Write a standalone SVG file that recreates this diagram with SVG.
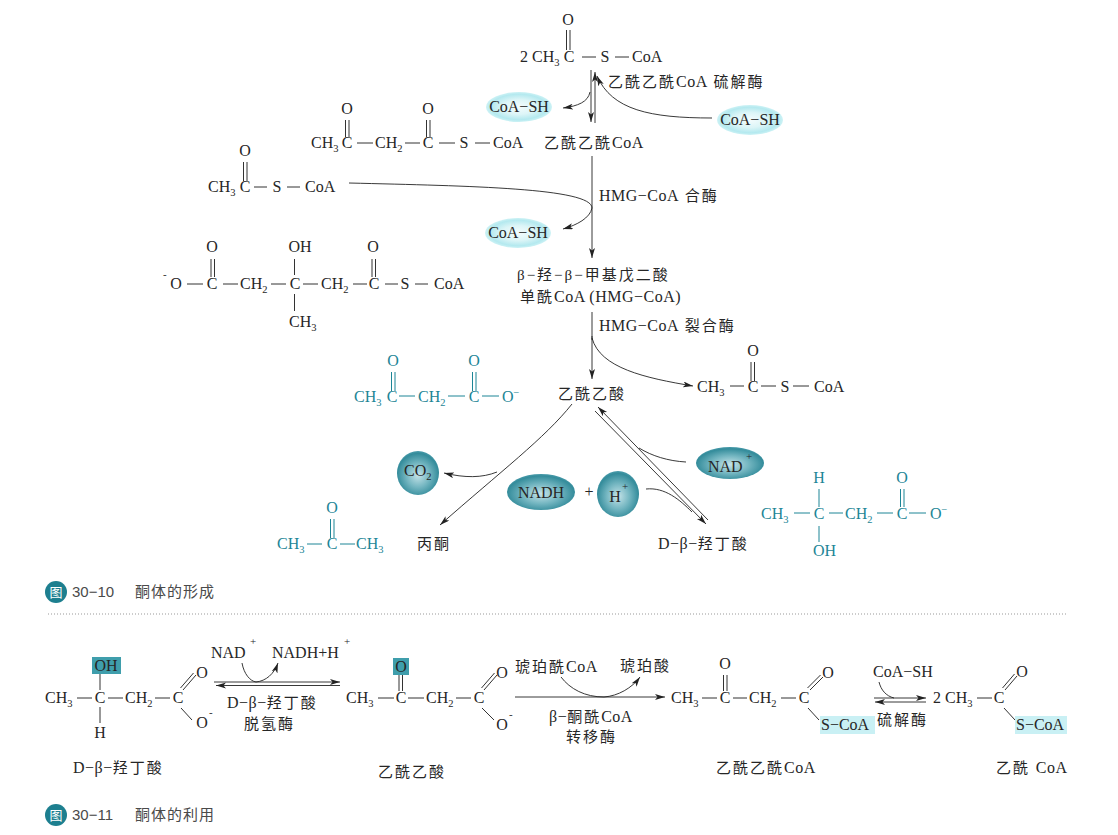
<svg xmlns="http://www.w3.org/2000/svg" width="1118" height="835" viewBox="0 0 1118 835">
<style>
text{font-family:"Liberation Serif","Noto Sans CJK SC",serif;font-size:16px;fill:#262626}
.c text{fill:#1d8596}
.m{text-anchor:middle}
.cap{font-family:"Liberation Sans","Noto Sans CJK SC",sans-serif;font-size:15px;fill:#4a4a4a}
.k{font-size:15px;letter-spacing:2px}
.n{font-size:16px;letter-spacing:.5px}
.s{font-size:10.500px}
.p{font-size:11px}
.b{stroke:#333;stroke-width:1;fill:none}
.c .b{stroke:#1d8596}
.a{stroke:#222;stroke-width:.9;fill:none;marker-end:url(#h)}
.l{stroke:#222;stroke-width:.9;fill:none}
.ic{fill:#fff;font-size:13px;font-family:"Noto Sans CJK SC",sans-serif;text-anchor:middle}
</style>
<defs>
<marker id="h" markerWidth="11" markerHeight="7" refX="10" refY="3" orient="auto" markerUnits="userSpaceOnUse"><path d="M0 0L10 3L0 6L2.500 3Z" fill="#222"/></marker>
<radialGradient id="cy"><stop offset="0" stop-color="#f4fcfd"/><stop offset="0.5" stop-color="#dcf5f7"/><stop offset="0.85" stop-color="#b4e9ef"/><stop offset="1" stop-color="#cdf2f5"/></radialGradient>
<radialGradient id="te" cx="0.5" cy="0.55" r="0.55"><stop offset="0" stop-color="#c5e3e8"/><stop offset="0.5" stop-color="#74b6c1"/><stop offset="0.9" stop-color="#348c9b"/><stop offset="1" stop-color="#4b9cab"/></radialGradient>
</defs>
<rect width="1118" height="835" fill="#fff"/>

<g id="connectors">
<path class="a" d="M591 70V122"/>
<path class="a" d="M595 123V72"/>
<path class="a" d="M590 92C588 102 578 106 563 108"/>
<path class="a" d="M712 118C650 118 612 110 597 76"/>
<path class="a" d="M592 156V258"/>
<path class="l" d="M349 183C470 186 592 188 592 208"/>
<path class="a" d="M592 208C590 218 577 225 563 229"/>
<path class="l" d="M592 312V340"/><path class="a" d="M592 336V379"/>
<path class="a" d="M592 338C600 368 645 378 693 386"/>
<path class="a" d="M572 404C545 438 500 472 440 525"/>
<path class="a" d="M497 472C482 478 465 478 444 473"/>
<path class="a" d="M595 411L706 524"/>
<path class="a" d="M708 520L598 407"/>
<path class="l" d="M686 462C668 461 652 456 639 448"/>
<path class="l" d="M646 489C665 487 680 500 692 512"/>
<path class="a" d="M214 682H340"/>
<path class="a" d="M340 685.500H216"/>
<path class="l" d="M242 663C244 674 250 681 256 682"/>
<path class="a" d="M256 682C266 681 274 674 278 663"/>
<path class="a" d="M515 697H665"/>
<path class="l" d="M561 677C570 689 585 697 604 697"/>
<path class="a" d="M604 697C618 696 632 688 640 677"/>
<path class="a" d="M874 698H926"/>
<path class="a" d="M926 702H875"/>
<path class="l" d="M879 682C881 690 886 696 894 698"/>
</g>

<g id="acetyl-coa-top"><text class="m" x="568" y="25">O</text><path class="b" d="M566.500 30V50M570 30V50M582 57H596M615 57H629"/>
<text x="520" y="62">2 CH<tspan class="s" dy="4">3</tspan></text><text class="m" x="569" y="62">C</text><text class="m" x="605" y="62">S</text><text x="632" y="62">CoA</text></g>
<text id="thiolase-label" class="k" x="608" y="87">乙酰乙酰<tspan class="n">CoA</tspan> 硫解酶</text>
<g id="coash-1"><ellipse cx="519" cy="107" rx="33" ry="15" fill="url(#cy)"/><text class="m" x="519" y="112">CoA−SH</text></g>
<g id="coash-2"><ellipse cx="750" cy="120" rx="33" ry="15" fill="url(#cy)"/><text class="m" x="750" y="125">CoA−SH</text></g>
<g id="coash-3"><ellipse cx="518" cy="233" rx="33" ry="15" fill="url(#cy)"/><text class="m" x="518" y="238">CoA−SH</text></g>

<g id="acetoacetyl-coa-struct"><text class="m" x="347" y="114">O</text><text class="m" x="428" y="114">O</text><path class="b" d="M345.500 120V137M349 120V137M426.500 120V137M430 120V137M357 143H373M405 143H420M439 143H455M475 143H490"/>
<text x="311" y="148">CH<tspan class="s" dy="4">3</tspan></text><text class="m" x="347" y="148">C</text><text x="375" y="148">CH<tspan class="s" dy="4">2</tspan></text><text class="m" x="428" y="148">C</text><text class="m" x="464" y="148">S</text><text x="493" y="148">CoA</text></g>
<text id="acetoacetyl-coa-label" class="k" x="544" y="148">乙酰乙酰<tspan class="n">CoA</tspan></text>

<g id="acetyl-coa-left"><text class="m" x="245" y="156">O</text><path class="b" d="M243.500 162V181M247 162V181M254 187H267M287 187H300"/>
<text x="208" y="192">CH<tspan class="s" dy="4">3</tspan></text><text class="m" x="245" y="192">C</text><text class="m" x="277" y="192">S</text><text x="305" y="192">CoA</text></g>
<text id="hmg-synth-label" class="k" x="599" y="201"><tspan class="n">HMG−CoA</tspan> 合酶</text>

<g id="hmg-struct"><text class="p" x="163" y="278">-</text><text class="m" x="176" y="289">O</text><path class="b" d="M187 284H203M223 284H238M271 284H286M303 284H318M353 284H367M385 284H398M415 284H428M211 259V277M214.500 259V277M294.500 259V275M294.500 294V311M372 259V277M375.500 259V277"/>
<text class="m" x="212" y="252">O</text><text class="m" x="300" y="252">OH</text><text class="m" x="373" y="252">O</text>
<text class="m" x="212" y="289">C</text><text x="240" y="289">CH<tspan class="s" dy="4">2</tspan></text><text class="m" x="295" y="289">C</text><text x="321" y="289">CH<tspan class="s" dy="4">2</tspan></text><text class="m" x="374" y="289">C</text><text class="m" x="405" y="289">S</text><text x="434" y="289">CoA</text><text x="289" y="327">CH<tspan class="s" dy="4">3</tspan></text></g>
<g id="hmg-label"><text class="k" x="517" y="280">β−羟−β−甲基戊二酸</text><text class="k" x="520" y="302">单酰<tspan class="n">CoA (HMG−CoA)</tspan></text></g>
<text id="hmg-lyase-label" class="k" x="599" y="331"><tspan class="n">HMG−CoA</tspan> 裂合酶</text>

<g id="acetyl-coa-right"><text class="m" x="753" y="356">O</text><path class="b" d="M751 362V381M754.500 362V381M730 386H744M761 386H776M793 386H809"/>
<text x="697" y="392">CH<tspan class="s" dy="4">3</tspan></text><text class="m" x="753" y="392">C</text><text class="m" x="785" y="392">S</text><text x="814" y="392">CoA</text></g>

<g id="acetoacetate-struct" class="c"><text class="m" x="393" y="366">O</text><text class="m" x="474" y="366">O</text><path class="b" d="M391.500 372V391M395 372V391M472.500 372V391M476 372V391M399 396H415M448 396H465M482 396H499"/>
<text x="354" y="402">CH<tspan class="s" dy="4">3</tspan></text><text class="m" x="392" y="402">C</text><text x="418" y="402">CH<tspan class="s" dy="4">2</tspan></text><text class="m" x="474" y="402">C</text><text x="502" y="402">O<tspan class="s" dy="-6">−</tspan></text></g>
<text id="acetoacetate-label" class="k" x="558" y="399">乙酰乙酸</text>

<g id="co2"><ellipse cx="418" cy="473" rx="21" ry="22" fill="url(#te)"/><text x="404" y="476">CO<tspan class="s" dy="4">2</tspan></text></g>
<g id="nadh"><ellipse cx="541" cy="492" rx="34" ry="18" fill="url(#te)"/><text class="m" x="541" y="498">NADH</text></g>
<text id="plus" class="m" x="589" y="497">+</text>
<g id="hplus"><ellipse cx="618" cy="494" rx="21" ry="23" fill="url(#te)"/><text class="m" x="615" y="502">H</text><text class="p" x="622" y="490">+</text></g>
<g id="nadplus"><ellipse cx="730" cy="463" rx="34" ry="16" fill="url(#te)"/><text x="708" y="472">NAD</text><text class="p" x="746" y="460">+</text></g>

<g id="acetone-struct" class="c"><text class="m" x="332" y="513">O</text><path class="b" d="M330.500 519V538M334 519V538M307 544H322M340 544H355"/>
<text x="277" y="549">CH<tspan class="s" dy="4">3</tspan></text><text class="m" x="332" y="549">C</text><text x="356" y="549">CH<tspan class="s" dy="4">3</tspan></text></g>
<text id="acetone-label" class="k" x="417" y="549">丙酮</text>
<text id="bhb-label" class="k" x="658" y="549"><tspan class="n">D−β−</tspan>羟丁酸</text>

<g id="bhb-struct" class="c"><text class="m" x="819" y="483">H</text><text class="m" x="902" y="483">O</text><path class="b" d="M819 489V507M819 526V542M900.500 489V507M904 489V507M794 513H810M829 513H843M877 513H893M909 513H926"/>
<text x="761" y="519">CH<tspan class="s" dy="4">3</tspan></text><text class="m" x="819" y="519">C</text><text x="845" y="519">CH<tspan class="s" dy="4">2</tspan></text><text class="m" x="902" y="519">C</text><text x="930" y="519">O<tspan class="s" dy="-6">−</tspan></text><text x="813" y="556">OH</text></g>

<g id="caption-1"><circle cx="56" cy="592" r="11" fill="#1d7f8f"/><text class="ic" x="56" y="597">图</text><text class="cap" x="72" y="597">30−10</text><text class="cap" x="135" y="597" letter-spacing="1">酮体的形成</text></g>
<path id="divider" d="M48 614H1066" stroke="#999" stroke-width="1" stroke-dasharray="1 2" fill="none"/>

<g id="bhb2"><rect x="92" y="657" width="29" height="17" fill="#3f9eac"/><text class="m" x="106" y="671">OH</text><path class="b" d="M100 674V690M100 707V723M77 698H92M108 698H123M155 698H170M183 690L196 675M180.500 688L193.500 673M181 708L192 720"/>
<text x="45" y="703">CH<tspan class="s" dy="4">3</tspan></text><text class="m" x="100" y="703">C</text><text x="125" y="703">CH<tspan class="s" dy="4">2</tspan></text><text class="m" x="178" y="703">C</text><text class="m" x="202" y="678">O</text><text class="m" x="202" y="728">O</text><text class="p" x="209" y="716">-</text><text class="m" x="100" y="738">H</text></g>
<g id="nad-label"><text x="211" y="658">NAD</text><text class="p" x="250" y="645">+</text></g>
<g id="nadh-label"><text x="272" y="658">NADH+H</text><text class="p" x="344" y="645">+</text></g>
<g id="dehydrogenase-label"><text class="k" x="227" y="708"><tspan class="n">D−β−</tspan>羟丁酸</text><text class="k" x="244" y="729">脱氢酶</text></g>

<g id="aa2"><rect x="393" y="658" width="16" height="17" fill="#3f9eac"/><text class="m" x="401" y="672">O</text><path class="b" d="M399 675V691M402.500 675V691M378 698H394M408 698H424M456 698H471M484 690L497 675M481.500 688L494.500 673M482 708L494 720"/>
<text x="346" y="703">CH<tspan class="s" dy="4">3</tspan></text><text class="m" x="401" y="703">C</text><text x="426" y="703">CH<tspan class="s" dy="4">2</tspan></text><text class="m" x="479" y="703">C</text><text class="m" x="502" y="678">O</text><text class="m" x="502" y="730">O</text><text class="p" x="509" y="718">-</text></g>
<text id="succ-coa" class="k" x="515" y="672">琥珀酰<tspan class="n">CoA</tspan></text>
<text id="succ" class="k" x="620" y="671">琥珀酸</text>
<g id="transferase-label"><text class="k" x="549" y="722"><tspan class="n">β−</tspan>酮酰<tspan class="n">CoA</tspan></text><text class="k" x="566" y="742">转移酶</text></g>

<g id="aacoa2"><text class="m" x="725" y="669">O</text><path class="b" d="M723.500 675V691M727 675V691M702 698H717M733 698H747M781 698H796M810 690L823 677M807.500 688L820.500 675M808 708L819 720"/>
<text x="671" y="703">CH<tspan class="s" dy="4">3</tspan></text><text class="m" x="725" y="703">C</text><text x="749" y="703">CH<tspan class="s" dy="4">2</tspan></text><text class="m" x="804" y="703">C</text><text class="m" x="828" y="678">O</text><rect x="820" y="716" width="55" height="18" fill="#c9f0f4"/><text x="821" y="730">S−CoA</text></g>
<text id="coash-label" x="873" y="677">CoA−SH</text>
<text id="thiolase2-label" class="k" x="877" y="725">硫解酶</text>

<g id="acetylcoa2"><text x="933" y="703">2 CH<tspan class="s" dy="4">3</tspan></text><text class="m" x="999" y="703">C</text><path class="b" d="M977 698H992M1005 690L1017 676M1002.500 688L1014.500 674M1004 708L1015 720"/><text class="m" x="1022" y="677">O</text><rect x="1015" y="716" width="52" height="18" fill="#c9f0f4"/><text x="1016" y="730">S−CoA</text></g>

<text id="label-bhb2" class="k" x="73" y="773"><tspan class="n">D−β−</tspan>羟丁酸</text>
<text id="label-aa2" class="k" x="378" y="777">乙酰乙酸</text>
<text id="label-aacoa2" class="k" x="716" y="773">乙酰乙酰<tspan class="n">CoA</tspan></text>
<text id="label-acetylcoa2" class="k" x="996" y="773">乙酰 <tspan class="n">CoA</tspan></text>
<g id="caption-2"><circle cx="56" cy="815" r="11" fill="#1d7f8f"/><text class="ic" x="56" y="820">图</text><text class="cap" x="72" y="820">30−11</text><text class="cap" x="135" y="820" letter-spacing="1">酮体的利用</text></g>
</svg>
